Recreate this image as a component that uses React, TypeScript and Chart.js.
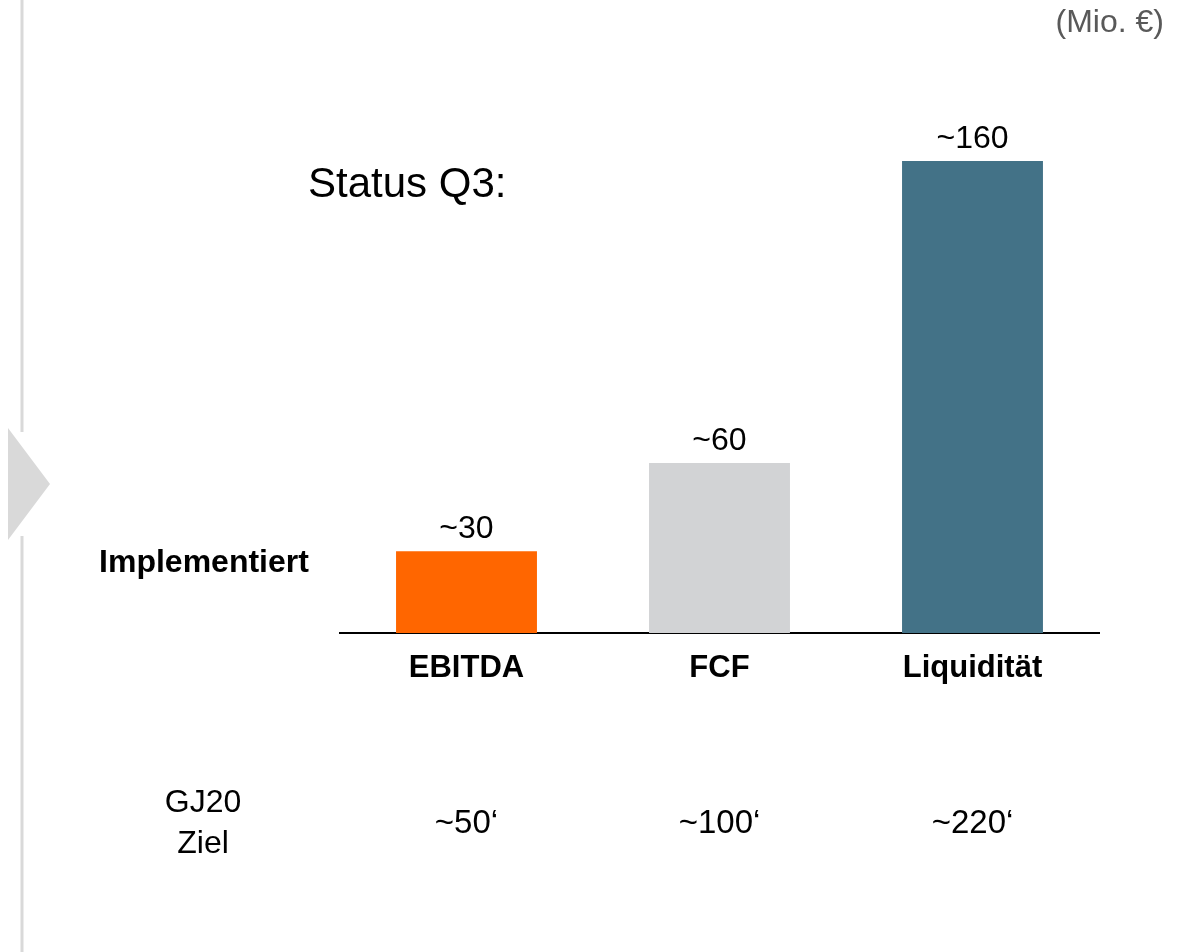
import React, { useEffect, useRef } from "react";
import { Chart, registerables } from "chart.js";

Chart.register(...registerables);

const categories = ["EBITDA", "FCF", "Liquidität"];
const implementedValues = [27.7, 57.6, 160];
const implementedLabels = ["~30", "~60", "~160"];
const targetLabels = ["~50\u2018", "~100\u2018", "~220\u2018"];
const barColors = ["#FF6600", "#D2D3D5", "#437287"];

const FONT = "'Liberation Sans', Arial, Helvetica, sans-serif";

const decorPlugin = {
  id: "decor",
  beforeDraw(chart: any) {
    const ctx = chart.ctx;
    ctx.save();
    ctx.strokeStyle = "#D9D9D9";
    ctx.lineWidth = 3;
    ctx.beginPath();
    ctx.moveTo(22, 0);
    ctx.lineTo(22, 432);
    ctx.moveTo(22, 536);
    ctx.lineTo(22, 952);
    ctx.stroke();
    ctx.fillStyle = "#D9D9D9";
    ctx.beginPath();
    ctx.moveTo(8, 428);
    ctx.lineTo(50, 484);
    ctx.lineTo(8, 540);
    ctx.closePath();
    ctx.fill();
    ctx.restore();
  },
  afterDatasetsDraw(chart: any) {
    const ctx = chart.ctx;
    const meta = chart.getDatasetMeta(0);
    const xScale = chart.scales.x;
    ctx.save();
    ctx.textAlign = "center";
    ctx.textBaseline = "middle";
    ctx.fillStyle = "#000";
    ctx.font = `32px ${FONT}`;
    meta.data.forEach((bar: any, i: number) => {
      ctx.fillText(implementedLabels[i], bar.x, bar.y - 22);
    });
    ctx.font = `33px ${FONT}`;
    targetLabels.forEach((t, i) => {
      ctx.fillText(t, xScale.getPixelForValue(i), 824);
    });
    ctx.font = `32px ${FONT}`;
    ctx.fillText("GJ20", 203, 803);
    ctx.fillText("Ziel", 203, 844);
    ctx.font = `bold 32px ${FONT}`;
    ctx.fillText("Implementiert", 204, 563);
    ctx.textAlign = "left";
    ctx.font = `42px ${FONT}`;
    ctx.fillText("Status Q3:", 308, 185);
    ctx.textAlign = "right";
    ctx.font = `32px ${FONT}`;
    ctx.fillStyle = "#595959";
    ctx.fillText("(Mio. \u20AC)", 1164, 23);
    ctx.restore();
  },
};

export default function App() {
  const ref = useRef<HTMLCanvasElement | null>(null);
  useEffect(() => {
    if (!ref.current) return;
    const chart = new Chart(ref.current, {
      type: "bar",
      data: {
        labels: categories,
        datasets: [
          {
            data: implementedValues,
            backgroundColor: barColors,
            borderWidth: 0,
            barPercentage: 0.557,
            categoryPercentage: 1,
          },
        ],
      },
      options: {
        responsive: false,
        animation: false,
        layout: { padding: { left: 340, right: 96, top: 161, bottom: 0 } },
        plugins: {
          legend: { display: false },
          tooltip: { enabled: false },
          title: { display: false },
        },
        scales: {
          x: {
            grid: { display: false, drawTicks: false },
            border: { display: true, color: "#000", width: 2 },
            ticks: {
              color: "#000",
              font: { family: FONT, size: 31, weight: "bold" },
              padding: 17,
            },
            afterFit(scale: any) {
              scale.height = 952 - 633;
            },
          },
          y: {
            display: false,
            min: 0,
            max: 160,
          },
        },
      },
      plugins: [decorPlugin],
    });
    return () => chart.destroy();
  }, []);
  return (
    <div style={{ position: "absolute", left: 0, top: 0, width: 1195, height: 952 }}>
      <canvas ref={ref} width={1195} height={952} />
    </div>
  );
}
